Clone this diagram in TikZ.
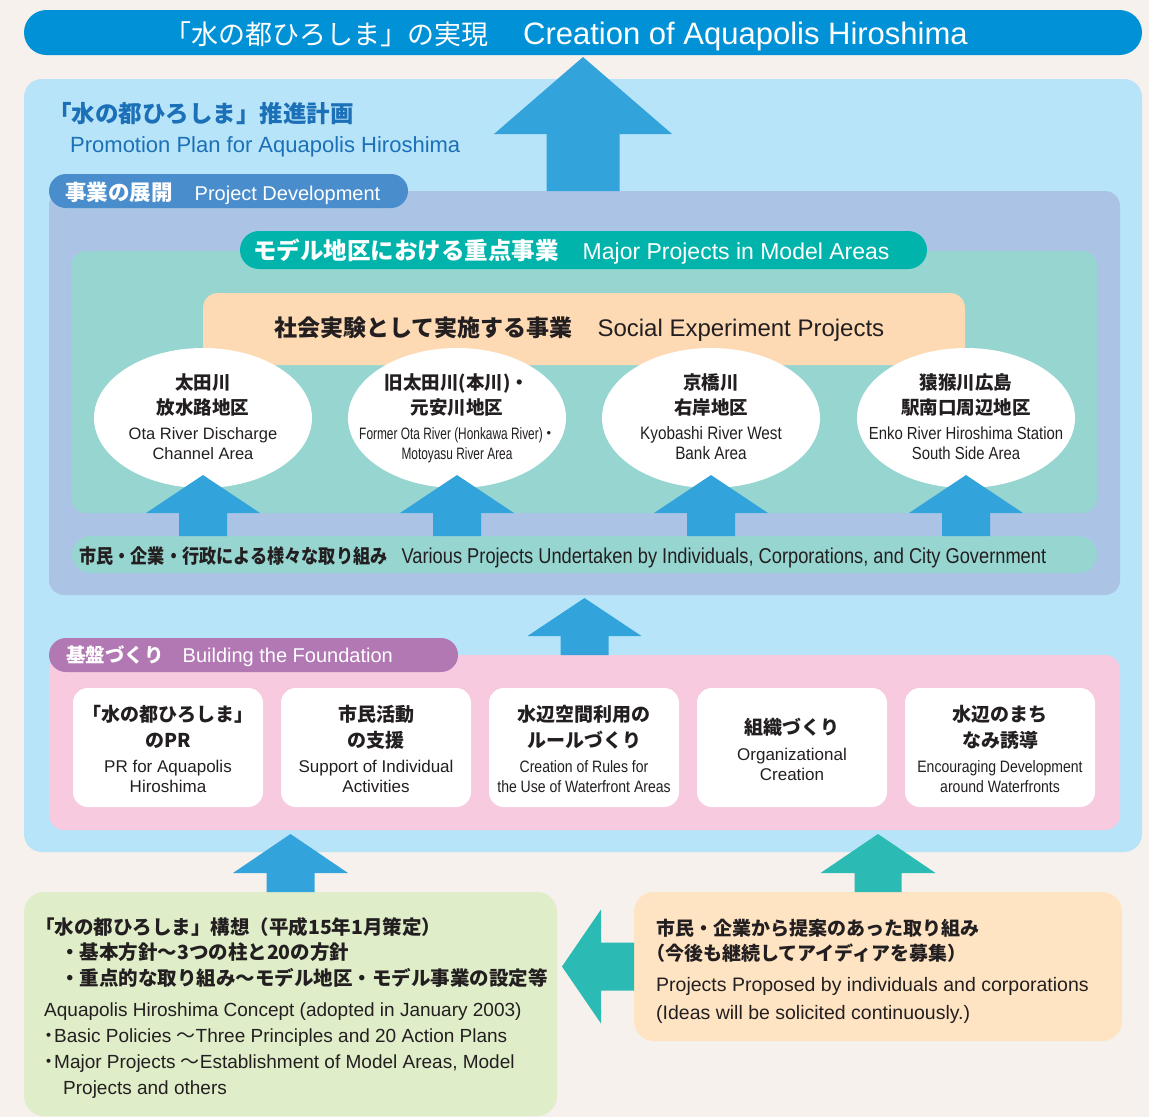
\documentclass[tikz,border=0pt]{standalone}
\usepackage{fontspec}
\setmainfont{Liberation Sans}
\newfontfamily\jp{Noto Sans CJK JP}
\newfontfamily\jpc[FakeStretch=0.88]{Noto Sans CJK JP}
\newfontfamily\cnd[FakeStretch=0.85]{Liberation Sans}
\newfontfamily\cndn[FakeStretch=0.72]{Liberation Sans}
\usetikzlibrary{shapes.geometric,positioning,calc}
\definecolor{bgcol}{HTML}{F6F1EC}
\definecolor{banner}{HTML}{0091D6}
\definecolor{arrowblue}{HTML}{33A3DC}
\definecolor{arrowteal}{HTML}{2BBAB4}
\definecolor{skyfill}{HTML}{B7E4F8}
\definecolor{devfill}{HTML}{ABC4E6}
\definecolor{devtab}{HTML}{4A8DCC}
\definecolor{modeltab}{HTML}{00B4AB}
\definecolor{modelfill}{HTML}{96D5D0}
\definecolor{socialfill}{HTML}{FDDAB4}
\definecolor{basefill}{HTML}{F7CADF}
\definecolor{basetab}{HTML}{B178B3}
\definecolor{conceptfill}{HTML}{DFEDC9}
\definecolor{ideafill}{HTML}{FFE4C4}
\definecolor{headblue}{HTML}{1B70B8}
\definecolor{ink}{HTML}{231F20}
\newcommand{\jb}[2]{{\jp\bfseries\fontsize{#1}{#1}\selectfont #2}}
\newcommand{\jr}[2]{{\jp\fontsize{#1}{#1}\selectfont #2}}
\newcommand{\jdot}[1]{\makebox[#1]{\jp ・}}
% block arrows: colour, base, tip, head length, head half width, shaft half width
\newcommand{\blockup}[6]{\fill[#1] let \p1=(#3), \p2=(#2) in
  (\x1-#6pt,\y2) -- (\x1-#6pt,\y1-#4pt) -- (\x1-#5pt,\y1-#4pt) -- (\p1)
  -- (\x1+#5pt,\y1-#4pt) -- (\x1+#6pt,\y1-#4pt) -- (\x1+#6pt,\y2) -- cycle;}
\newcommand{\blockleft}[6]{\fill[#1] let \p1=(#3), \p2=(#2) in
  (\x2,\y1+#6pt) -- (\x1+#4pt,\y1+#6pt) -- (\x1+#4pt,\y1+#5pt) -- (\p1)
  -- (\x1+#4pt,\y1-#5pt) -- (\x1+#4pt,\y1-#6pt) -- (\x2,\y1-#6pt) -- cycle;}

\begin{document}
\begin{tikzpicture}[x=1pt,y=-1pt]
\tikzstyle{panel} = [draw=none, inner sep=0pt, outer sep=0pt]
\tikzstyle{oval} = [panel, ellipse, fill=white, minimum width=218pt, minimum height=140pt]
\tikzstyle{card} = [panel, fill=white, rounded corners=15pt, minimum width=190pt, minimum height=119pt]
\tikzstyle{words} = [inner sep=0pt, anchor=base west, text=ink]
\tikzstyle{ovaltext} = [inner sep=0pt, anchor=base, align=center, text=ink]
\tikzset{cardtext/.style={ovaltext, font=\fontsize{17}{20}\selectfont}} % texts in the white cards, base = last line

\useasboundingbox (0,0) rectangle (1149,1117);
\fill[bgcol] (0,0) rectangle (1149,1117);

% goal bar
\node[panel, fill=banner, rounded corners=22.5pt, minimum width=1118pt, minimum height=45pt] (banner) at (583,32.5) {};
\node[words, text=white] (bannerTxt) at (164,44) {\jr{27}{「水の都ひろしま」の実現}\hspace{35pt}{\fontsize{31}{34}\selectfont Creation of Aquapolis Hiroshima}};

\begin{scope}
\node[panel, fill=skyfill, rounded corners=18pt, minimum width=1118pt, minimum height=773pt] (planPanel) at (583,465.5) {};
\node[words, text=headblue] (planTitle) at (48,122) {\jb{23.5}{「水の都ひろしま」推進計画}};
\node[words, text=headblue, font=\fontsize{22}{26}\selectfont] (planSub) at (70,152) {Promotion Plan for Aquapolis Hiroshima};

% project development
\node[panel, fill=devfill, rounded corners=15pt, minimum width=1071pt, minimum height=404pt] (devPanel) at (584.5,393) {};
\node[panel, fill=devtab, rounded corners=17pt, minimum width=359pt, minimum height=34pt] (devTab) at (228.5,191) {};
\node[words, text=white] (devTabTxt) at (65,200) {\jb{21.5}{事業の展開}\hspace{22pt}{\fontsize{20}{24}\selectfont Project Development}};

\node[panel, fill=modelfill, rounded corners=15pt, minimum width=1026pt, minimum height=262pt] (modelPanel) at (584,382) {};
\node[panel, fill=modeltab, rounded corners=19pt, minimum width=687pt, minimum height=38pt] (modelTab) at (583.5,250) {};
\node[words, text=white] (modelTabTxt) at (253,259) {\jb{23.5}{モデル地区における重点事業}\hspace{24pt}{\fontsize{23}{26}\selectfont Major Projects in Model Areas}};

\node[panel, fill=socialfill, rounded corners=15pt, minimum width=762pt, minimum height=72pt] (socialBox) at (584,329) {};
\node[words] (socialTxt) at (274,336) {\jb{23}{社会実験として実施する事業}\hspace{25pt}{\fontsize{24}{26}\selectfont Social Experiment Projects}};

\node[oval] (ota) at (203,418) {};
\node[oval] (honkawa) at (457,418) {};
\node[oval] (kyobashi) at (711,418) {};
\node[oval] (enko) at (966,418) {};
\node[ovaltext, font=\fontsize{16.5}{20}\selectfont] (otaTxt) at (203,459) {\jb{18.5}{太田川}\\[5pt]\jb{18.5}{放水路地区}\\[5pt]Ota River Discharge\\Channel Area};
\node[ovaltext, font=\cndn\fontsize{16.5}{20}\selectfont] (honkawaTxt) at (457,459) {\jb{18.5}{旧太田川(本川)・}\\[5pt]\jb{18.5}{元安川地区}\\[5pt]Former Ota River (Honkawa River)\jdot{12pt}\\Motoyasu River Area};
\node[ovaltext, font=\cnd\fontsize{18}{20}\selectfont] (kyobashiTxt) at (711,459) {\jb{18.5}{京橋川}\\[5pt]\jb{18.5}{右岸地区}\\[5pt]Kyobashi River West\\Bank Area};
\node[ovaltext, font=\cnd\fontsize{17.5}{20}\selectfont] (enkoTxt) at (966,459) {\jb{18.5}{猿猴川広島}\\[5pt]\jb{18.5}{駅南口周辺地区}\\[5pt]Enko River Hiroshima Station\\South Side Area};

\node[panel, fill=modelfill, rounded corners=18.5pt, minimum width=1025pt, minimum height=37pt] (various) at (584.5,554.5) {};
\node[words] (variousTxt) at (79,563) {{\jpc\bfseries\fontsize{19.5}{20}\selectfont 市民・企業・行政による様々な取り組み}\hspace{14pt}{\cnd\fontsize{21.5}{24}\selectfont Various Projects Undertaken by Individuals, Corporations, and City Government}};

\blockup{arrowblue}{various.north}{$(ota.south)+(0,-13)$}{38}{57}{24}
\blockup{arrowblue}{various.north}{$(honkawa.south)+(0,-13)$}{38}{57}{24}
\blockup{arrowblue}{various.north}{$(kyobashi.south)+(0,-13)$}{38}{57}{24}
\blockup{arrowblue}{various.north}{$(enko.south)+(0,-13)$}{38}{57}{24}
\blockup{arrowblue}{devPanel.north}{$(banner.south)+(0,2)$}{77}{89}{36.5} % up to the goal

% building the foundation
\node[panel, fill=basefill, rounded corners=15pt, minimum width=1071pt, minimum height=175pt] (basePanel) at (584.5,742.5) {};
\node[panel, fill=basetab, rounded corners=17pt, minimum width=409pt, minimum height=34pt] (baseTab) at (253.5,655) {};
\node[words, text=white] (baseTabTxt) at (66,662) {\jb{19.5}{基盤づくり}\hspace{19pt}{\fontsize{20}{24}\selectfont Building the Foundation}};
\blockup{arrowblue}{basePanel.north}{$(devPanel.south)+(0,3)$}{38}{57}{24}

\node[card] (prCard) at (168,747.5) {};
\node[card] (supportCard) at (376,747.5) {};
\node[card] (ruleCard) at (584,747.5) {};
\node[card] (orgCard) at (792,747.5) {};
\node[card] (townCard) at (1000,747.5) {};
\node[cardtext] (prTxt) at (prCard |- 0,792) {\jb{19}{「水の都ひろしま」}\\[6pt]\jb{19}{のPR}\\[5pt]PR for Aquapolis\\Hiroshima};
\node[cardtext] (supportTxt) at (supportCard |- 0,792) {\jb{19}{市民活動}\\[6pt]\jb{19}{の支援}\\[5pt]Support of Individual\\Activities};
\node[cardtext, font=\cnd\fontsize{16.5}{20}\selectfont] (ruleTxt) at (ruleCard |- 0,792) {\jb{19}{水辺空間利用の}\\[6pt]\jb{19}{ルールづくり}\\[5pt]Creation of Rules for\\the Use of Waterfront Areas};
\node[cardtext] (orgTxt) at (orgCard |- 0,780) {\jb{19}{組織づくり}\\[6pt]Organizational\\Creation};
\node[cardtext, font=\cnd\fontsize{16.5}{20}\selectfont] (townTxt) at (townCard |- 0,792) {\jb{19}{水辺のまち}\\[6pt]\jb{19}{なみ誘導}\\[5pt]Encouraging Development\\around Waterfronts};
\end{scope}

% sources below the plan
\node[panel, fill=conceptfill, rounded corners=20pt, minimum width=533pt, minimum height=224pt] (conceptBox) at (290.5,1004) {};
\node[panel, fill=ideafill, rounded corners=20pt, minimum width=488pt, minimum height=149pt] (ideaBox) at (878,966.5) {};
\blockup{arrowblue}{conceptBox.north}{$(conceptBox.north)+(0,-58)$}{39}{57.5}{24}
\blockup{arrowteal}{ideaBox.north}{$(ideaBox.north)+(0,-58)$}{39}{57.5}{23.5}
\blockleft{arrowteal}{ideaBox.west}{$(ideaBox.west)+(-72,0)$}{39}{57}{24}

\node[words, align=left, font=\jp\bfseries\fontsize{19.5}{25.5}\selectfont] (conceptJP) at (35,985) {「水の都ひろしま」構想（平成15年1月策定）\\\hspace*{25pt}・基本方針～3つの柱と20の方針\\\hspace*{25pt}・重点的な取り組み～モデル地区・モデル事業の設定等};
\node[words, align=left, font=\fontsize{19}{26}\selectfont] (conceptEN) at (44,1094) {Aquapolis Hiroshima Concept (adopted in January 2003)\\\jdot{10pt}Basic Policies {\jp ～}Three Principles and 20 Action Plans\\\jdot{10pt}Major Projects {\jp ～}Establishment of Model Areas, Model\\\hspace*{19pt}Projects and others};
\node[words, align=left, font=\jp\bfseries\fontsize{19}{25}\selectfont] (ideaJP) at (656,960) {市民・企業から提案のあった取り組み\\\hspace*{-10pt}（今後も継続してアイディアを募集）};
\node[words, align=left, font=\fontsize{19.5}{28}\selectfont] (ideaEN) at (656,1019) {Projects Proposed by individuals and corporations\\(Ideas will be solicited continuously.)};
\end{tikzpicture}
\end{document}
